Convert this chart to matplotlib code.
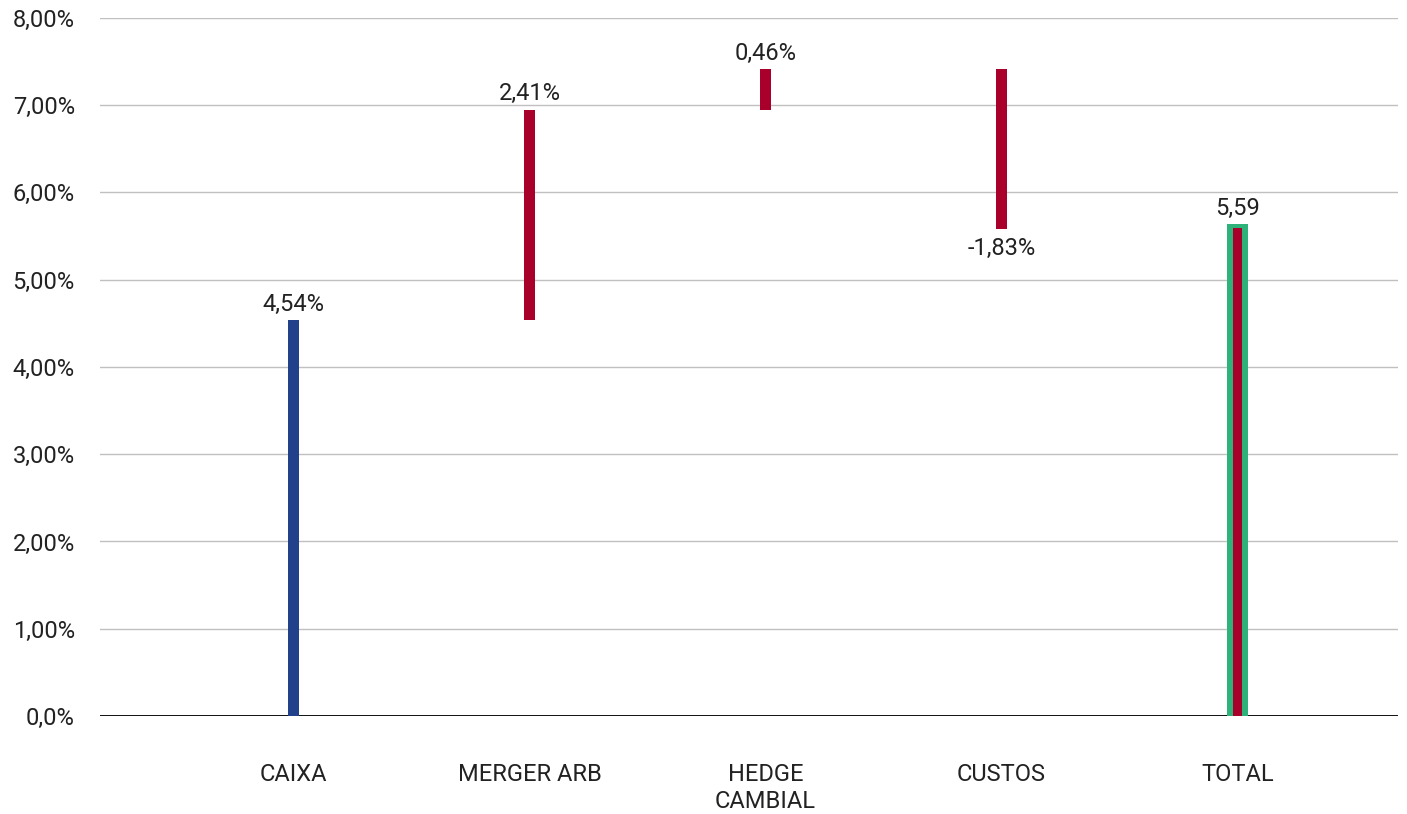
import numpy as np
import matplotlib.pyplot as plt

plt.rcParams['font.family'] = ['Roboto', 'DejaVu Sans']

categories = ['CAIXA', 'MERGER ARB', 'HEDGE\nCAMBIAL', 'CUSTOS', 'TOTAL']
deltas = [4.54, 2.41, 0.46, -1.83]
total = 5.59
value_labels = ['4,54%', '2,41%', '0,46%', '-1,83%', '5,59']
yticks = [0, 1, 2, 3, 4, 5, 6, 7, 8]
ytick_labels = ['0,0%', '1,00%', '2,00%', '3,00%', '4,00%', '5,00%', '6,00%', '7,00%', '8,00%']

blue = '#21428b'
red = '#a8002a'
green = '#2db37a'
txt = '#222222'
fs = 17

ends = np.cumsum(deltas)
starts = ends - np.array(deltas)
x = np.arange(len(categories))

fig = plt.figure(figsize=(14.07, 8.14), dpi=100)
ax = fig.add_axes([0.071, 0.1204, 0.9226, 0.8576])

bw = 0.047
colors = [blue] + [red] * (len(deltas) - 1)
ax.bar(x[:4], deltas, bottom=starts, width=bw, color=colors, zorder=3)

# total bar with green frame
ax.bar(x[4], total + 0.12, bottom=-0.07, width=0.085, color=green, zorder=3)
ax.bar(x[4], total, bottom=0, width=0.038, color=red, zorder=4)

# value labels
for i, d in enumerate(deltas):
    if d >= 0:
        ax.annotate(value_labels[i], (x[i], ends[i]), xytext=(0, 3), textcoords='offset points',
                    ha='center', va='bottom', fontsize=fs, color=txt)
    else:
        ax.annotate(value_labels[i], (x[i], ends[i]), xytext=(0, -6), textcoords='offset points',
                    ha='center', va='top', fontsize=fs, color=txt)
ax.annotate(value_labels[4], (x[4], total + 0.05), xytext=(0, 3), textcoords='offset points',
            ha='center', va='bottom', fontsize=fs, color=txt)

ax.set_xlim(-0.82, 4.68)
ax.set_ylim(0, 8)
ax.set_yticks(yticks)
ax.set_yticklabels(ytick_labels)
ax.set_xticks(x)
ax.set_xticklabels(categories, linespacing=1.2)
ax.tick_params(axis='y', length=0, pad=18, labelsize=fs, labelcolor=txt)
ax.tick_params(axis='x', length=0, pad=34, labelsize=fs, labelcolor=txt)

ax.grid(axis='y', color='#c0c0c0', linewidth=1, zorder=0)
for s in ax.spines.values():
    s.set_visible(False)
ax.axhline(0, color='black', linewidth=1.3, zorder=2)

fig.savefig('out.png', dpi=100)
